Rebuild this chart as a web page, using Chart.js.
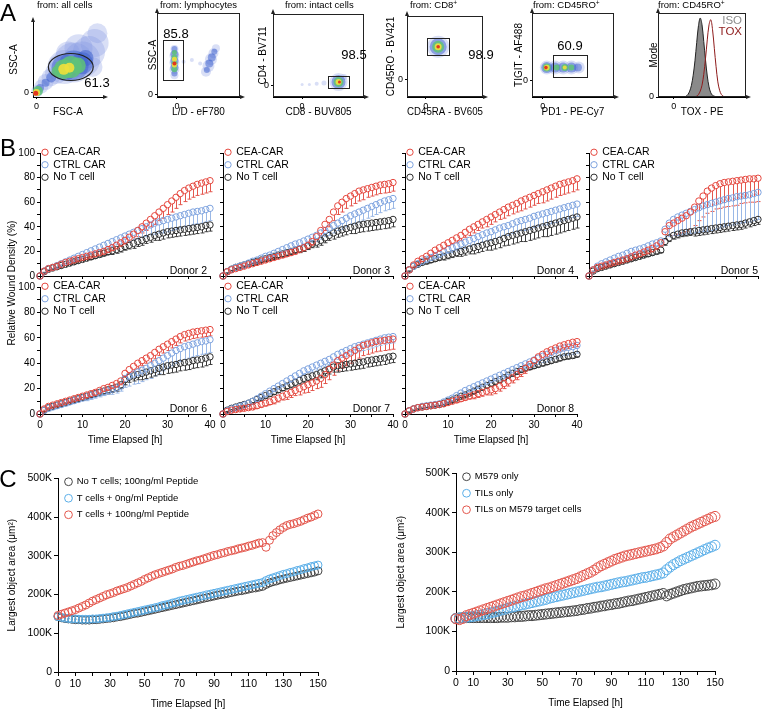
<!DOCTYPE html>
<html>
<head>
<meta charset="utf-8">
<script src="https://cdn.jsdelivr.net/npm/chart.js@4.4.0/dist/chart.umd.min.js"></script>
<style>
body { margin: 0; background: #fff; font-family: "Liberation Sans", Arial, sans-serif; }
#fig { position: relative; width: 763px; height: 712px; overflow: hidden; background: #fff; }
#fig canvas { position: absolute; }
.t { position: absolute; white-space: nowrap; color: #000; z-index: 2; }
.t sup { font-size: 70%; line-height: 0; vertical-align: 0.45em; }
</style>
</head>
<body>
<div id="fig"></div>
<script>
// ---------- panel A: flow density blobs [x, y, radius(px), level] in 0-100 plot units
const a1Cloud = [
  [6,8,6,0],[12,14,7,0],[18,20,8,0],[25,26,9,0],[33,32,11,0],[45,40,17,0],[58,46,20,0],[70,50,18,0],
  [80,60,16,0],[88,72,14,0],[92,85,10,0],[65,65,14,0],[50,58,12,0],[85,40,10,0],[35,45,8,0],
  [10,12,4,1],[18,19,4,1],[26,26,5,1],[45,39,13,1],[58,42,15,1],[70,45,11,1],[75,52,8,1],
  [7,8,5,2],[35,34,6,2],[44,37,10,2],[54,40,11,2],[64,42,8,2],
  [5,6,3.5,3],[44,37,5.5,3],[52,39,5,3],
  [4,5,2.5,4]
];
const a2Cloud = [
  [21,26,4,0],[21,33,5,0],[21,41,5,0],[21,49,5,0],[21,57,4,0],[32,42,2,0],[42,44,2,0],[52,40,2,0],
  [59,30,5,0],[62,37,6,0],[65,45,6,0],[68,52,5,0],[71,58,4,0],
  [21,28,3,1],[21,35,4,1],[21,43,4,1],[21,51,4,1],[21,57,3,1],[60,32,3,1],[63,40,4,1],[66,47,4,1],[69,54,3,1],
  [21,33,3,2],[21,40,3,2],[21,47,3,2],[21,53,2.5,2],
  [21,38,2.5,3],[21,45,2.5,3],
  [21,40,2,4]
];
const a3Cloud = [
  [32,15,1.5,0],[40,15,1.5,0],[48,16,2,0],[56,17,2.5,0],[72,18,9,0],[78,24,3,0],
  [72,18,7,1],[72,18,5,2],[72,18,3,3],[73,18,1.5,4]
];
const a4Cloud = [[41,62,11,0],[41,62,8.5,1],[41,62,6,2],[41,62,3.5,3],[41,62,1.8,4]];
const a5Cloud = [
  [18,35,7,0],[28,35,7,0],[38,35,7,0],[48,35,7,0],[57,35,6,0],
  [18,35,5.5,1],[28,35,5,1],[38,35,5,1],[48,35,5,1],[56,35,4,1],
  [18,35,4,2],[30,35,3,2],[40,35,3.5,2],[48,35,3,2],
  [18,35,2.8,3],[40,35,2,3],
  [17,35,1.8,4]
];
// TOX histogram (x = 0..100 step 2)
const isoCounts = [0,0,0,0,0,0,0,0,0,0, 0,0,0,0,0,0,1,3,7,14, 26,43,65,85,94,86,66,44,25,12, 5,2,1,0,0,0,0,0,0,0, 0,0,0,0,0,0,0,0,0,0, 0];
const toxCounts = [0,0,0,0,0,0,0,0,0,0, 0,0,0,0,0,0,0,0,0,0, 0,0.5,1,3,7,14,27,46,68,86, 92,80,58,36,18,8,3,1,0,0, 0,0,0,0,0,0,0,0,0,0, 0];

// ---------- panel B: relative wound density (%), hourly 0..40 h, with downward SD
const d2Cea  = [0,4,6,7,8,9.5,11,12,13,14,15,16,17,18,19,20,21.5,23,25,27,29,31.5,34,37,40,43,46,49,52,55,58,61,64,67,69.5,71.5,73,74.5,75.5,76.5,77.5];
const d2Ctrl = [0,4,6,7,8.5,10,11.5,13,14.5,16,17.5,19,20.5,22,23.5,25,26.5,28,29.5,31,32.5,34,35.5,37,38.5,40,41.5,43,44,45,46,47,48,49,50,51,52,52.5,53,54,55];
const d2NoT  = [0,3.5,5.5,6.5,7.5,8.5,9.5,10.5,11.5,12.5,13.5,14.5,15.5,16.5,17.5,18.5,19.5,20.5,21.5,22.5,24,25,26.5,28,29,30.5,31.5,33,34,35,36,36.5,37,37.5,38,38.5,39,39.5,40,41,41.5];
const d3Cea  = [0,3.5,5,6,7,8,9,10,11,12,13,14,15,16,17,18,19,20,21.5,23,25,28,32,37,42,46,52,57,60,63,65,67,69,70,71,72,73,74,74.5,75,76];
const d3Ctrl = [0,3.5,5.5,7,8,9,10.5,12,13,14.5,16,17,18.5,20,21.5,23,24.5,26,27,28.5,30,31.5,33,35,37,39,41,43,45,47,49,50.5,52,53.5,55,56.5,58,59.5,61,62,63];
const d3NoT  = [0,3.5,5.5,7,8,9,10,11,12,13,14,15,16,17,18,19,20,21,22,23,24.5,26,27.5,29,31,33,35,36.5,37.5,38.5,39.5,40.5,41.5,42,42.5,43,43.5,44,44.5,45,46];
const d4Cea  = [0,5,9,12,14,16,18.5,21,23,25,27,29,31,33,35.5,38,40,42,44,46,48,50,52,54,56,57.5,59,61,62.5,64,65.5,67,68.5,70,71.5,73,74.5,75.5,76.5,77.5,79];
const d4Ctrl = [0,5,8,10,12,13.5,15,16.5,18,20,21.5,23,24.5,26,27.5,29,30.5,32,33.5,35,36,37.5,39,40,41,42.5,44,45,46,47,48.5,49.5,50.5,51.5,52.5,53.5,54.5,55.5,56.5,57.5,58.5];
const d4NoT  = [0,5,8,9.5,11,12,13,14,15,16,17,18,19,20,21,22,23,24,25,26,27,28,29,30.5,32,33,34,35,36,37,38,39,40,41,42,43,44,45,46,47,48];
const d5Cea  = [0,5,7,8,9,10,11,12,13,14,15.5,17,18,19.5,21,22.5,24.5,27,36,41,43,45,47,49,52,56,61,65,69,71.5,73.5,75,76,76.5,77,77.5,78,78.5,79,79,79.5];
const d5Ctrl = [0,5,8,10,11.5,13,14.5,16,17,18.5,20,21,22,23,24.5,26,27,28.5,38,43,46,48,49.5,51,52.5,54,55.5,57,58,59,60,61,62,63,63.5,64.5,65,65.5,66,67,68];
const d5NoT  = [0,4,6,7,8,9,10,11,12,13,14,15,16,17,18,19,20,21,28,31,33,34,35,35.5,36,36.5,37,37.5,38,38.5,39,39.5,40,40.5,41,41.5,42,43,44,45,46];
const d6Cea  = [0,4,6,7,8,9,10,11,12,13,14,15,16,17,18.5,20,21,22.5,24,26,32,35,37.5,40,42,44,46,48.5,51,53,55,57,59,61,62.5,63.5,64.5,65,65.5,66,66.5];
const d6Ctrl = [0,3,4.5,5.5,6.5,7.5,8.5,9.5,10.5,11.5,12.5,13.5,14.5,15.5,16.5,17.5,18.5,19.5,20.5,22,28,30,31.5,33,34.5,36,38,40,42,44,46,48,50,51.5,53,54,55,56,57,57.5,58.5];
const d6NoT  = [0,3,5,6,7,8,9,10,11,12,13,14,15,16,17,18,19,20,21,23,27,29,30,31,32,33,34,35,36,37,38,38.5,39,40,40.5,41,42,42.5,43,44,45];
const d7Cea  = [0,2,3,3.5,4,4.5,5,5.5,6.5,7.5,8.5,9.5,11,12.5,14,15.5,17,18.5,20,21.5,23,24.5,26,28,31,35,38.5,42,44,46,48,50,52,54,55,56,57,57.5,58,58.5,59];
const d7Ctrl = [0,2.5,4,5,6,7,8.5,10,12,14,16,18,20,22,24,26,28,30,32,34,35.5,37,38.5,40,41.5,43,45,47,48.5,50,51.5,53,54,55,56,57,58,59,60,60.5,61];
const d7NoT  = [0,3,4.5,5.5,6.5,7.5,8.5,10,11.5,13,14.5,16,17.5,19,20.5,22,23.5,25,26.5,28,29,30,31,32.5,34,35.5,37,38,38.5,39,39.5,40,40.5,41,42,42.5,43,43.5,44,45,45.5];
const d8Cea  = [0,2.5,4,5,5.5,6,6.5,7,7.5,8,9,10,11,12,13,14,15,16,17,18,19,20,22,24,26,28.5,31,33.5,36,39,42,45,47,49,50.5,52,53.5,54.5,55.5,56.5,57];
const d8Ctrl = [0,2.5,4,5,6,6.5,7,7.5,8,9.5,11,12.5,14.5,16.5,18.5,20,21.5,23,24.5,26,27.5,29,30.5,32,33.5,35,36.5,38,39.5,41,42.5,44,45.5,47,48.5,50,51,52,52.5,53,54];
const d8NoT  = [0,2.5,4,5,5.5,6,6.5,7,7.5,8.5,10,11,12.5,14,15,16.5,18,19.5,21,22.5,24,25.5,27,28.5,30.5,32,33.5,35,36,37,38,39,40,41,42,43,44,45,45.5,46,47];

const d2CeaErr  = [0,1,1,1,1,1,1,1,1,1, 1,1,1,2,2,2,2,2,3,3, 3,4,4,5,5,6,6,7,7,8, 8,9,9,9,9,9,9,9,9,9, 9];
const d2CtrlErr = [0,1,1,1,1,1,1,1,1,1, 2,2,2,2,3,3,3,4,4,5, 5,6,6,7,7,8,8,9,9,10, 10,10,10,10,10,10,10,10,10,10, 10];
const d2NoTErr  = [0,1,1,1,1,1,1,1,1,1, 1,1,2,2,2,2,2,3,3,3, 3,3,4,4,4,4,4,4,5,5, 5,5,5,5,5,5,5,5,5,5, 5];
const d3CeaErr  = [0,1,1,1,1,1,1,1,1,1, 1,1,1,1,2,2,2,2,2,3, 3,3,4,4,5,6,7,7,8,8, 8,8,8,8,7,7,7,7,7,7, 7];
const d3CtrlErr = [0,1,1,1,1,1,1,1,1,1, 1,1,2,2,2,2,3,3,3,4, 4,4,5,5,5,6,6,6,7,7, 7,8,8,8,8,8,8,8,8,8, 8];
const d3NoTErr  = [0,1,1,1,1,1,1,1,1,1, 1,1,1,2,2,2,2,2,3,3, 3,3,4,4,4,4,5,5,5,5, 5,6,6,6,6,6,6,6,6,6, 6];
const d4CeaErr  = [0,1,1,1,2,2,2,2,3,3, 3,3,4,4,4,5,5,5,5,6, 6,6,6,7,7,7,7,8,8,8, 8,8,9,9,9,9,9,9,9,9, 9];
const d4CtrlErr = [0,1,1,1,2,2,2,2,3,3, 3,4,4,4,5,5,5,6,6,6, 7,7,7,7,8,8,8,8,9,9, 9,9,9,10,10,10,10,10,10,10, 10];
const d4NoTErr  = [0,1,1,1,1,2,2,2,2,3, 3,3,3,4,4,4,5,5,5,5, 6,6,6,6,7,7,7,7,8,8, 8,8,8,9,9,9,9,9,9,9, 9];
const d5CeaErr  = [0,1,1,1,1,1,1,1,2,2, 2,2,2,2,3,3,3,3,6,8, 10,11,12,13,14,15,16,17,18,19, 19,20,20,20,20,20,19,19,19,19, 19];
const d5CtrlErr = [0,1,1,1,1,1,1,2,2,2, 2,2,2,3,3,3,3,4,8,11, 13,15,16,17,18,19,20,21,22,22, 22,22,22,22,22,22,22,22,22,22, 22];
const d5NoTErr  = [0,1,1,1,1,1,1,1,1,1, 1,1,1,1,2,2,2,2,3,3, 3,3,3,3,3,4,4,4,4,4, 4,4,4,4,4,4,4,4,4,4, 4];
const d6CeaErr  = [0,1,1,1,1,1,1,1,1,1, 1,2,2,2,2,2,2,2,3,3, 3,3,4,4,4,4,5,5,5,5, 5,5,5,5,5,5,5,5,5,5, 5];
const d6CtrlErr = [0,2,2,2,2,2,2,2,2,2, 2,3,3,3,3,3,3,4,4,4, 7,8,8,9,9,9,10,10,10,10, 10,10,10,10,10,10,10,10,10,10, 10];
const d6NoTErr  = [0,1,1,1,1,1,1,1,1,1, 2,2,2,2,2,2,3,3,3,3, 4,4,4,4,5,5,5,5,5,6, 6,6,6,6,6,6,6,6,6,6, 6];
const d7CeaErr  = [0,1,1,1,1,1,1,1,2,2, 2,2,3,3,3,4,4,4,5,5, 6,6,6,7,7,8,8,8,8,8, 8,8,8,8,8,8,8,8,8,8, 8];
const d7CtrlErr = [0,1,1,1,1,1,1,1,1,1, 2,2,2,2,2,2,3,3,3,3, 3,4,4,4,4,4,4,4,4,5, 5,5,5,5,5,5,5,5,5,5, 5];
const d7NoTErr  = [0,1,1,1,1,1,1,1,1,1, 2,2,2,2,2,2,3,3,3,3, 3,3,4,4,4,4,4,5,5,5, 5,5,5,5,5,5,5,5,5,5, 5];
const d8CeaErr  = [0,1,1,1,1,1,1,1,1,1, 1,1,2,2,2,2,3,3,3,3, 4,4,4,4,4,4,4,4,4,4, 4,4,4,4,4,4,4,4,4,4, 4];
const d8CtrlErr = [0,1,1,1,1,1,1,1,1,1, 1,2,2,2,2,2,2,3,3,3, 3,3,4,4,4,5,5,5,5,5, 5,5,5,6,6,6,6,6,6,6, 6];
const d8NoTErr  = [0,1,1,1,1,1,1,1,1,1, 1,1,1,1,1,1,2,2,2,2, 2,2,2,2,2,2,2,2,2,2, 2,2,2,2,2,2,2,2,2,2, 2];

// ---------- panel C: largest object area (K um^2), every 2 h 0..150
const leftNoT = [143,140,138,137,136,135,135,134,134,134, 135,135,136,137,138,139,140,142,143,145,
  147,149,151,152,154,156,158,160,162,164, 166,168,170,172,174,176,178,180,182,184,
  186,188,190,192,194,196,198,200,201,203, 205,207,209,210,212,214,216,217,219,221,
  226,230,233,235,238,240,242,244,246,248, 250,252,254,256,258,261];
const leftZero = [143,141,139,138,137,137,136,136,136,136, 137,137,138,139,140,141,143,144,146,148,
  150,152,154,156,158,160,162,164,166,168, 171,173,175,178,180,183,185,187,189,191,
  193,195,197,199,201,203,205,207,209,211, 213,215,217,219,221,223,225,227,229,231,
  236,240,243,246,249,252,254,257,259,262, 264,267,269,272,274,276];
const leftHundred = [146,149,152,155,158,161,165,169,173,178, 183,187,191,195,199,202,205,209,212,215,
  218,222,226,230,234,239,243,247,251,254, 257,260,263,266,270,273,275,278,281,284,
  287,289,292,295,298,301,303,306,308,311, 313,315,318,320,322,325,327,330,333,334,
  322,340,352,360,367,373,378,381,383,386, 389,393,397,400,404,408];
const rightM579 = [133,134,135,135,135,135,135,135,135,135, 135,135,135,136,136,136,137,137,138,138,
  139,140,140,141,142,143,144,145,146,147, 148,149,150,151,152,153,155,156,158,159,
  161,162,164,165,167,168,170,171,173,175, 177,178,180,182,184,186,188,190,192,194,
  196,190,194,197,200,203,206,208,210,212, 214,215,216,217,218,220];
const rightTils = [133,134,135,136,137,138,140,141,143,145, 147,149,151,154,156,159,161,163,165,167,
  169,171,173,175,177,179,181,184,186,188, 190,192,194,196,198,200,202,204,206,208,
  210,212,213,215,217,219,221,223,225,226, 228,230,232,234,236,237,239,241,243,245,
  248,256,263,269,274,279,283,287,291,295, 299,303,307,311,314,318];
const rightTarget = [132,130,133,140,143,146,149,152,155,158, 161,164,167,170,173,176,179,182,185,188,
  190,193,196,199,202,205,208,210,213,216, 219,222,225,228,231,234,238,242,246,250,
  255,261,266,270,274,278,282,285,288,291, 293,295,297,299,301,303,305,307,309,312,
  316,325,334,339,344,349,354,359,364,368, 372,376,380,384,388,391];

const hoursB = Array.from({ length: 41 }, (_, i) => i);
const hoursC = Array.from({ length: 76 }, (_, i) => i * 2);
const histX = Array.from({ length: 51 }, (_, i) => i * 2);

// ---------------------------------------------------------------
const FONT = '"Liberation Sans", Arial, sans-serif';
Chart.defaults.font.family = FONT;
Chart.defaults.font.size = 10;
Chart.defaults.color = '#000';
Chart.defaults.animation = false;
Chart.defaults.responsive = false;
Chart.defaults.devicePixelRatio = 1;
Chart.defaults.plugins.legend.display = false;
Chart.defaults.plugins.tooltip.enabled = false;

const fig = document.getElementById('fig');
const pts = (xs, ys) => ys.map((y, i) => ({ x: xs[i], y: y }));

// one-sided (downward) error bars under the points
const errorBars = {
  id: 'errorBars',
  beforeDatasetsDraw(chart) {
    const ctx = chart.ctx, ys = chart.scales.y;
    chart.data.datasets.forEach((ds, di) => {
      if (!ds.errDown) return;
      const meta = chart.getDatasetMeta(di);
      ctx.save();
      ctx.strokeStyle = ds.errColor;
      ctx.lineWidth = 1;
      meta.data.forEach((p, i) => {
        const e = ds.errDown[i];
        if (!e) return;
        const yb = ys.getPixelForValue(ds.data[i].y - e);
        const x = Math.round(p.x) + 0.5;
        ctx.beginPath();
        ctx.moveTo(x, p.y + 3);
        ctx.lineTo(x, yb);
        ctx.moveTo(x - 2, yb);
        ctx.lineTo(x + 2, yb);
        ctx.stroke();
      });
      ctx.restore();
    });
  }
};

// frame, gates and axis arrows for the flow plots
const flowDecor = {
  id: 'flowDecor',
  afterDatasetsDraw(chart, args, o) {
    if (!o || !o.on) return;
    const { ctx, chartArea: a, scales: { x, y } } = chart;
    ctx.save();
    ctx.strokeStyle = '#222';
    ctx.fillStyle = '#222';
    ctx.lineWidth = 1;
    if (o.frame) ctx.strokeRect(a.left + 0.5, a.top + 0.5, a.width - 1, a.height - 1);
    if (o.rect) {
      const x0 = x.getPixelForValue(o.rect[0]), y0 = y.getPixelForValue(o.rect[1]);
      const x1 = x.getPixelForValue(o.rect[2]), y1 = y.getPixelForValue(o.rect[3]);
      ctx.strokeRect(Math.round(x0) + 0.5, Math.round(y1) + 0.5, Math.round(x1 - x0), Math.round(y0 - y1));
    }
    if (o.ellipse) {
      const cx = x.getPixelForValue(o.ellipse[0]), cy = y.getPixelForValue(o.ellipse[1]);
      const rx = x.getPixelForValue(o.ellipse[0] + o.ellipse[2]) - cx;
      const ry = cy - y.getPixelForValue(o.ellipse[1] + o.ellipse[3]);
      ctx.lineWidth = 1.2;
      ctx.beginPath();
      ctx.ellipse(cx, cy, rx, ry, 0, 0, Math.PI * 2);
      ctx.stroke();
    }
    // arrow heads
    ctx.beginPath();
    ctx.moveTo(a.left, a.top - 5); ctx.lineTo(a.left - 2, a.top); ctx.lineTo(a.left + 2, a.top); ctx.closePath();
    ctx.moveTo(a.right + 5, a.bottom); ctx.lineTo(a.right, a.bottom - 2); ctx.lineTo(a.right, a.bottom + 2); ctx.closePath();
    ctx.fill();
    ctx.restore();
  }
};
Chart.register(errorBars, flowDecor);

function makeCanvas(area, m) {
  const c = document.createElement('canvas');
  const w = area[2] - area[0] + m.l + m.r;
  const h = area[3] - area[1] + m.t + m.b;
  c.width = w; c.height = h;
  c.style.left = (area[0] - m.l) + 'px';
  c.style.top = (area[1] - m.t) + 'px';
  c.style.width = w + 'px';
  c.style.height = h + 'px';
  fig.appendChild(c);
  return c;
}

function txt(html, x, y, size, o = {}) {
  const d = document.createElement('div');
  d.className = 't';
  d.innerHTML = html;
  d.style.fontSize = size + 'px';
  d.style.lineHeight = size + 'px';
  d.style.left = x + 'px';
  d.style.top = y + 'px';
  const ax = o.align === 'right' ? '-100%' : o.align === 'left' ? '0' : '-50%';
  d.style.transform = 'translate(' + ax + ',-50%)' + (o.rot ? ' rotate(' + o.rot + 'deg)' : '');
  if (o.color) d.style.color = o.color;
  fig.appendChild(d);
}

// linear axis with fixed thickness so the plot area lands where we want it
function lin(o) {
  const s = {
    type: 'linear', min: o.min, max: o.max, position: o.pos,
    afterFit: sc => { if (sc.isHorizontal()) sc.height = o.fit; else sc.width = o.fit; },
    border: { display: true, color: '#000', width: 1 },
    grid: { drawOnChartArea: false, drawTicks: true, tickLength: o.tick || 3, color: '#000' },
    ticks: { stepSize: o.step, autoSkip: false, maxRotation: 0, padding: 2, font: { size: o.fs || 10 }, callback: o.fmt },
    title: o.title ? { display: true, text: o.title, font: { size: o.tfs || 10 }, padding: { top: 2, bottom: 2 } } : { display: false }
  };
  if (o.tickVals) s.afterBuildTicks = sc => { sc.ticks = o.tickVals.map(v => ({ value: v })); };
  return s;
}

// ---------- A
// Chart.js paints dataset 0 last (on top), so the hottest level comes first
const densColors = ['rgba(225,45,30,0.95)', 'rgba(238,224,60,0.92)', 'rgba(95,195,120,0.85)', 'rgba(60,95,205,0.5)', 'rgba(130,150,225,0.3)'];

function flowChart(p) {
  const c = makeCanvas(p.area, { l: p.ml, t: 8, r: 6, b: 23 });
  let datasets;
  if (p.blobs) {
    datasets = densColors.map((col, k) => ({
      type: 'bubble',
      data: p.blobs.filter(b => b[3] === 4 - k).map(b => ({ x: b[0], y: b[1], r: b[2] })),
      backgroundColor: col, borderWidth: 0, clip: false
    }));
  } else {
    datasets = [
      { type: 'line', data: pts(histX, toxCounts), borderColor: '#8e1b1b', borderWidth: 1, fill: false, pointRadius: 0, tension: 0.35 },
      { type: 'line', data: pts(histX, isoCounts), borderColor: '#222', borderWidth: 1, backgroundColor: '#8a8a8a', fill: 'origin', pointRadius: 0, tension: 0.35 }
    ];
  }
  new Chart(c, {
    type: p.blobs ? 'bubble' : 'line',
    data: { datasets },
    options: {
      layout: { padding: { top: 8, right: 6, left: 0, bottom: 0 } },
      plugins: { flowDecor: { on: true, frame: p.frame, rect: p.rect, ellipse: p.ellipse } },
      scales: {
        x: lin({ min: 0, max: 100, pos: 'bottom', fit: 23, tick: 2, fs: 9, tickVals: [p.zero[0]], fmt: () => '0', title: p.xt }),
        y: lin({ min: 0, max: 100, pos: 'left', fit: p.ml, tick: 2, fs: 9, tickVals: [p.zero[1]], fmt: () => '0', title: p.yt })
      }
    }
  });
  txt(p.from, p.area[0] + p.fromDx, 5, 9.5, { align: 'left' });
  if (p.pct) txt(p.pct[0], p.pct[1], p.pct[2], 13);
}

flowChart({ area: [33, 10, 117, 97], ml: 27, blobs: a1Cloud, frame: false, ellipse: [54, 40, 32, 18], zero: [5, 6],
  xt: 'FSC-A', yt: 'SSC-A', from: 'from: all cells', fromDx: 4, pct: ['61.3', 97, 82] });
flowChart({ area: [157, 13, 240, 97], ml: 12, blobs: a2Cloud, frame: true, rect: [7, 20, 31, 68], zero: [24, 2.4],
  xt: 'L/D - eF780', yt: 'SSC-A', from: 'from: lymphocytes', fromDx: 3, pct: ['85.8', 176, 33] });
flowChart({ area: [273, 13, 367, 97], ml: 18, blobs: a3Cloud, frame: true, rect: [60, 11, 83, 25], zero: [32, 14],
  xt: 'CD8 - BUV805', yt: 'CD4 - BV711', from: 'from: intact cells', fromDx: 12, pct: ['98.5', 354, 54] });
flowChart({ area: [407, 13, 488, 97], ml: 24, blobs: a4Cloud, frame: true, rect: [26, 51, 55.5, 72.6], zero: [24.7, 21.4],
  xt: 'CD45RA - BV605', yt: 'CD45RO - BV421', from: 'from: CD8<sup>+</sup>', fromDx: 3, pct: ['98.9', 481, 54] });
flowChart({ area: [532, 13, 615, 97], ml: 21, blobs: a5Cloud, frame: true, rect: [25, 24, 66, 50], zero: [13, 20],
  xt: 'PD1 - PE-Cy7', yt: 'TIGIT - AF488', from: 'from: CD45RO<sup>+</sup>', fromDx: 1, pct: ['60.9', 570, 45] });
flowChart({ area: [658, 13, 746, 97], ml: 12, blobs: null, frame: true, zero: [18, 0],
  xt: 'TOX - PE', yt: 'Mode', from: 'from: CD45RO<sup>+</sup>', fromDx: 0 });
txt('ISO', 742, 20.5, 11.5, { align: 'right', color: '#8c8c8c' });
txt('TOX', 742, 31.5, 11.5, { align: 'right', color: '#8e1b1b' });

// ---------- B
const donors = [
  { name: 'Donor 2', cea: d2Cea, ctrl: d2Ctrl, noT: d2NoT, ceaE: d2CeaErr, ctrlE: d2CtrlErr, noTE: d2NoTErr, area: [40, 153, 210, 276], yl: true, xl: false },
  { name: 'Donor 3', cea: d3Cea, ctrl: d3Ctrl, noT: d3NoT, ceaE: d3CeaErr, ctrlE: d3CtrlErr, noTE: d3NoTErr, area: [223, 153, 393, 276], yl: false, xl: false },
  { name: 'Donor 4', cea: d4Cea, ctrl: d4Ctrl, noT: d4NoT, ceaE: d4CeaErr, ctrlE: d4CtrlErr, noTE: d4NoTErr, area: [405, 153, 577, 276], yl: false, xl: false },
  { name: 'Donor 5', cea: d5Cea, ctrl: d5Ctrl, noT: d5NoT, ceaE: d5CeaErr, ctrlE: d5CtrlErr, noTE: d5NoTErr, area: [589, 153, 761, 276], yl: false, xl: false },
  { name: 'Donor 6', cea: d6Cea, ctrl: d6Ctrl, noT: d6NoT, ceaE: d6CeaErr, ctrlE: d6CtrlErr, noTE: d6NoTErr, area: [40, 287, 210, 414], yl: true, xl: true },
  { name: 'Donor 7', cea: d7Cea, ctrl: d7Ctrl, noT: d7NoT, ceaE: d7CeaErr, ctrlE: d7CtrlErr, noTE: d7NoTErr, area: [223, 287, 393, 414], yl: false, xl: true },
  { name: 'Donor 8', cea: d8Cea, ctrl: d8Ctrl, noT: d8NoT, ceaE: d8CeaErr, ctrlE: d8CtrlErr, noTE: d8NoTErr, area: [405, 287, 577, 414], yl: false, xl: true }
];

function donorSet(label, ys, err, col, errCol) {
  return {
    label, data: pts(hoursB, ys), errDown: err, errColor: errCol,
    borderColor: col, backgroundColor: 'rgba(0,0,0,0)',
    pointBorderColor: col, pointBackgroundColor: 'rgba(0,0,0,0)',
    pointRadius: 3.2, pointBorderWidth: 1, showLine: false, clip: false
  };
}

donors.forEach(d => {
  const m = { l: d.yl ? 26 : 7, t: 8, r: d.area[2] > 700 ? 2 : 9, b: d.xl ? 34 : 8 };
  const c = makeCanvas(d.area, m);
  new Chart(c, {
    type: 'scatter',
    data: {
      datasets: [
        donorSet('CEA-CAR', d.cea, d.ceaE, '#e5483f', '#e4574e'),
        donorSet('CTRL CAR', d.ctrl, d.ctrlE, '#7ea3df', '#9ab8e6'),
        donorSet('No T cell', d.noT, d.noTE, '#2e2e2e', '#3c3c3c')
      ]
    },
    options: {
      layout: { padding: { top: m.t, right: m.r, left: 0, bottom: 0 } },
      plugins: {
        legend: {
          display: true, position: 'chartArea', align: 'start',
          labels: { usePointStyle: true, pointStyle: 'circle', boxWidth: 6, boxHeight: 4.5, padding: 2, font: { size: 10.5 } }
        }
      },
      scales: {
        x: lin({ min: 0, max: 40, step: 5, pos: 'bottom', fit: m.b, tick: 3,
          fmt: v => (d.xl && v % 10 === 0) ? v : '', title: d.xl ? 'Time Elapsed [h]' : null }),
        y: lin({ min: 0, max: 100, step: 10, pos: 'left', fit: m.l, tick: 3,
          fmt: v => (d.yl && v % 20 === 0) ? v : '' })
      }
    }
  });
  txt(d.name, d.area[2] - 3, d.area[3] - 6, 10.5, { align: 'right' });
});
txt('Relative Wound Density (%)', 12, 283, 10, { rot: -90 });

// ---------- C
function growthChart(area, ml, names, series, cols, radius) {
  const m = { l: ml, t: 8, r: 12, b: 40 };
  const c = makeCanvas(area, m);
  new Chart(c, {
    type: 'scatter',
    data: {
      // reversed so the treated series paints on top; legend flips it back
      datasets: series.map((ys, i) => ({
        label: names[i], data: pts(hoursC, ys),
        borderColor: cols[i], backgroundColor: 'rgba(0,0,0,0)',
        pointBorderColor: cols[i], pointBackgroundColor: 'rgba(0,0,0,0)',
        pointRadius: radius, pointBorderWidth: 1, showLine: false, clip: false
      })).reverse()
    },
    options: {
      layout: { padding: { top: m.t, right: m.r, left: 0, bottom: 0 } },
      plugins: {
        legend: {
          display: true, position: 'chartArea', align: 'start', reverse: true,
          labels: { usePointStyle: true, pointStyle: 'circle', boxWidth: 7, boxHeight: 5.5, padding: 7, font: { size: 9.5 } }
        }
      },
      scales: {
        x: lin({ min: 0, max: 150, step: 10, pos: 'bottom', fit: m.b, tick: 4, fs: 10.5,
          fmt: v => (v === 0 || (v - 10) % 20 === 0) ? v : '', title: 'Time Elapsed [h]' }),
        y: lin({ min: 0, max: 500, step: 100, pos: 'left', fit: m.l, tick: 4, fs: 10.5,
          fmt: v => v === 0 ? '0' : v + 'K', title: 'Largest object area (\u03bcm\u00b2)' })
      }
    }
  });
}

growthChart([58, 478, 318, 672], 54,
  ['No T cells; 100ng/ml Peptide', 'T cells + 0ng/ml Peptide', 'T cells + 100ng/ml Peptide'],
  [leftNoT, leftZero, leftHundred], ['#444444', '#5aaee8', '#e3564c'], 4);
growthChart([456, 473, 715, 671], 63,
  ['M579 only', 'TILs only', 'TILs on M579 target cells'],
  [rightM579, rightTils, rightTarget], ['#444444', '#5aaee8', '#e3564c'], 5);

// panel letters
txt('A', 8, 13, 24);
txt('B', 8, 148, 24);
txt('C', 8, 479, 24);
</script>
</body>
</html>
